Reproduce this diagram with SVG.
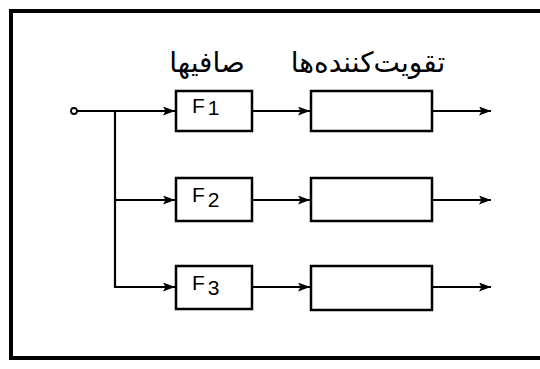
<svg xmlns="http://www.w3.org/2000/svg" width="540" height="369" viewBox="0 0 540 369">
<style>
.frame{fill:none;stroke:#000;stroke-width:4}
.box{fill:#fff;stroke:#000;stroke-width:2.5}
.wire{fill:none;stroke:#000;stroke-width:2.2}
.lbl{font-family:"Liberation Sans","DejaVu Sans",sans-serif;font-size:21px;fill:#000}
.fa{font-family:"DejaVu Sans","Noto Sans",sans-serif;font-size:28px;fill:#000;text-anchor:middle}
</style>
<defs>
<marker id="ah" viewBox="0 0 12 9" refX="12" refY="4.5" markerWidth="12" markerHeight="9" markerUnits="userSpaceOnUse" orient="auto">
<path d="M0,0 L12,4.5 L0,9 L2.5,4.5 Z" fill="#000"/>
</marker>
</defs>
<rect width="540" height="369" fill="#fff"/>
<path class="frame" d="M541,11 H11 V358 H541"/>
<g id="labels">
<text class="fa" x="207" y="72">صافیها</text>
<text class="fa" x="368" y="72">تقویت‌کننده‌ها</text>
</g>
<g id="input">
<circle cx="74" cy="111" r="3" fill="#fff" stroke="#000" stroke-width="1.8"/>
</g>
<g id="connectors">
<path class="wire" d="M77,111 H175" marker-end="url(#ah)"/>
<path class="wire" d="M115,111 V287 H175" marker-end="url(#ah)"/>
<path class="wire" d="M115,200 H175" marker-end="url(#ah)"/>
<path class="wire" d="M252,111 H310" marker-end="url(#ah)"/>
<path class="wire" d="M252,200 H310" marker-end="url(#ah)"/>
<path class="wire" d="M252,287 H310" marker-end="url(#ah)"/>
<path class="wire" d="M433,111 H491" marker-end="url(#ah)"/>
<path class="wire" d="M433,200 H491" marker-end="url(#ah)"/>
<path class="wire" d="M433,287 H491" marker-end="url(#ah)"/>
</g>
<g id="F1">
<rect class="box" x="176" y="91" width="76" height="40"/>
<text class="lbl" x="192" y="113">F<tspan dx="3" dy="2">1</tspan></text>
</g>
<g id="F2">
<rect class="box" x="176" y="178" width="76" height="43"/>
<text class="lbl" x="192" y="202">F<tspan dx="3" dy="5">2</tspan></text>
</g>
<g id="F3">
<rect class="box" x="176" y="266" width="76" height="43"/>
<text class="lbl" x="192" y="290">F<tspan dx="3" dy="5">3</tspan></text>
</g>
<g id="A1">
<rect class="box" x="311" y="91" width="121" height="40"/>
</g>
<g id="A2">
<rect class="box" x="311" y="178" width="121" height="43"/>
</g>
<g id="A3">
<rect class="box" x="311" y="266" width="121" height="44"/>
</g>
</svg>
